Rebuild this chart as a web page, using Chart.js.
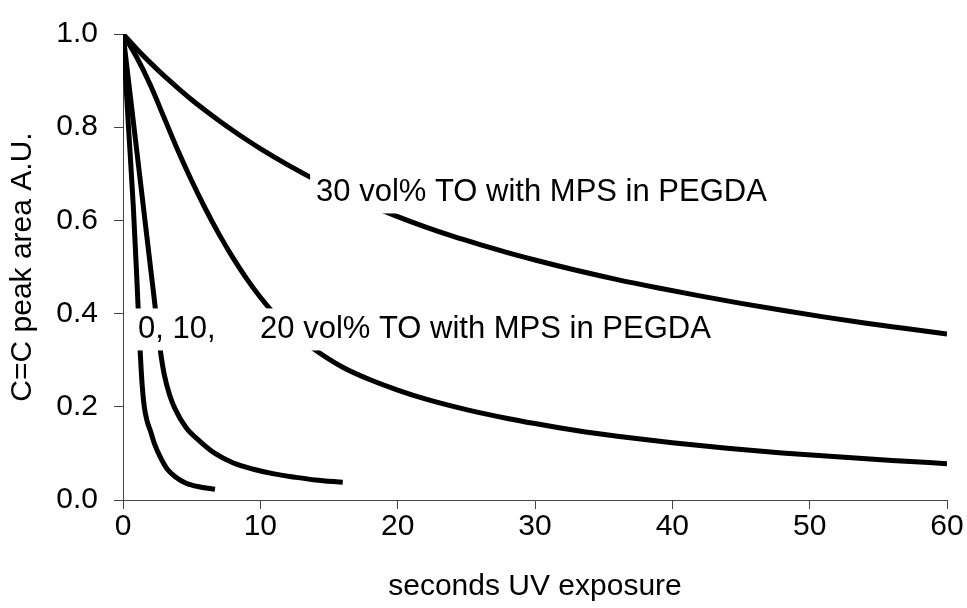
<!DOCTYPE html>
<html>
<head>
<meta charset="utf-8">
<script src="https://cdn.jsdelivr.net/npm/chart.js@4.4.1/dist/chart.umd.min.js"></script>
<style>
  html, body { margin: 0; padding: 0; background: #fff; }
  #wrap { width: 967px; height: 608px; position: relative; }
</style>
</head>
<body>
<div id="wrap"><canvas id="uv"></canvas></div>
<script>
// curado UV: área del pico C=C frente al tiempo de exposición
const t0  = [0, 0.4, 0.75, 1.0, 1.23, 1.4, 1.55, 1.75, 2.0, 2.3, 2.8, 3.2, 3.8, 4.6, 5.6, 6.7];
const v0  = [1.0, 0.8, 0.63, 0.48, 0.33, 0.245, 0.2, 0.17, 0.148, 0.12, 0.087, 0.067, 0.05, 0.036, 0.028, 0.023];

const t10 = [0, 0.5, 1.0, 1.5, 2.0, 2.4, 2.7, 3.0, 3.4, 3.8, 4.6, 5.6, 6.7, 8.0, 9.5, 11, 12.5, 14, 16];
const v10 = [1.0, 0.875, 0.75, 0.625, 0.50, 0.40, 0.325, 0.27, 0.225, 0.195, 0.155, 0.126, 0.10, 0.08, 0.066, 0.056, 0.049, 0.043, 0.038];

const t20 = [0, 1, 2, 3, 4, 5, 6, 7, 8, 9, 10, 11, 12, 13, 14, 16, 18, 20, 22, 25, 28, 30, 33, 36, 40, 44, 48, 52, 56, 60];
const v20 = [1.0, 0.95, 0.89, 0.82, 0.75, 0.685, 0.625, 0.57, 0.52, 0.475, 0.435, 0.40, 0.37, 0.345, 0.322, 0.285, 0.258, 0.236, 0.217, 0.194, 0.175, 0.164, 0.149, 0.137, 0.123, 0.111, 0.101, 0.093, 0.085, 0.078];

const t30 = [0, 1, 2, 3, 4, 5, 6, 7, 8, 9, 10, 12, 14, 16, 18, 20, 22, 24, 26, 28, 30, 33, 36, 39, 42, 45, 48, 51, 54, 57, 60];
const v30 = [1.0, 0.968, 0.938, 0.91, 0.884, 0.859, 0.836, 0.814, 0.793, 0.773, 0.754, 0.719, 0.687, 0.658, 0.632, 0.608, 0.586, 0.566, 0.548, 0.531, 0.515, 0.493, 0.473, 0.455, 0.438, 0.422, 0.407, 0.393, 0.38, 0.368, 0.356];

const xTicks = [0, 10, 20, 30, 40, 50, 60];
const yTicks = [0, 0.2, 0.4, 0.6, 0.8, 1.0];

// etiquetas sobre el gráfico (texto, x, y en unidades de datos)
const labels = [
  { text: '30 vol% TO with MPS in PEGDA', x: 14.06, y: 0.66 },
  { text: '0, 10,', x: 1.09, y: 0.366 },
  { text: '20 vol% TO with MPS in PEGDA', x: 9.98, y: 0.366 }
];

const FONT = '"Liberation Sans", Arial, sans-serif';
const toPts = (xs, ys) => xs.map((x, i) => ({ x, y: ys[i] }));

function _serie(xs, ys) {
  return {
    data: toPts(xs, ys),
    borderColor: '#000', borderWidth: 5, borderCapStyle: 'butt', borderJoinStyle: 'round',
    pointRadius: 0, fill: false, cubicInterpolationMode: 'monotone'
  };
}

// cajas blancas con texto, dibujadas encima de las curvas
const labelPlugin = {
  id: 'curveLabels',
  afterDatasetsDraw(chart) {
    const { ctx, scales: { x, y } } = chart;
    ctx.save();
    ctx.font = '31px ' + FONT;
    ctx.textBaseline = 'middle';
    labels.forEach(l => {
      const px = x.getPixelForValue(l.x), py = y.getPixelForValue(l.y);
      const w = ctx.measureText(l.text).width;
      ctx.fillStyle = '#fff';
      ctx.fillRect(px - 6, py - 21, w + 12, 42);
    });
    labels.forEach(l => {
      const px = x.getPixelForValue(l.x), py = y.getPixelForValue(l.y);
      ctx.fillStyle = '#000';
      ctx.fillText(l.text, px, py);
    });
    ctx.restore();
  }
};

const axisCol = '#444';
const tickFont = { size: 30, family: FONT };

new Chart(document.getElementById('uv'), {
  type: 'line',
  data: { datasets: [_serie(t0, v0), _serie(t10, v10), _serie(t20, v20), _serie(t30, v30)] },
  options: {
    responsive: true, maintainAspectRatio: false, animation: false,
    layout: { padding: { top: 22, right: 20, bottom: 0, left: 0 } },
    plugins: { legend: { display: false }, tooltip: { enabled: false } },
    scales: {
      x: {
        type: 'linear', min: 0, max: 60,
        afterBuildTicks: s => { s.ticks = xTicks.map(v => ({ value: v })); },
        afterFit: s => { s.height = 108; },
        ticks: { color: '#000', font: tickFont, padding: 0, maxRotation: 0 },
        grid: { drawOnChartArea: false, drawTicks: true, tickLength: 9, color: axisCol },
        border: { display: true, color: axisCol, width: 1 },
        title: { display: true, text: 'seconds UV exposure', color: '#000', font: tickFont, padding: { bottom: 3 } }
      },
      y: {
        type: 'linear', min: 0, max: 1,
        afterBuildTicks: s => { s.ticks = yTicks.map(v => ({ value: v })); },
        afterFit: s => { s.width = 123; },
        ticks: { color: '#000', font: tickFont, padding: 16, callback: v => v.toFixed(1) },
        grid: { drawOnChartArea: false, drawTicks: true, tickLength: 9, color: axisCol },
        border: { display: true, color: axisCol, width: 1 },
        title: { display: true, text: 'C=C peak area A.U.', color: '#000', font: tickFont, padding: { top: 5 } }
      }
    }
  },
  plugins: [labelPlugin]
});
</script>
</body>
</html>
